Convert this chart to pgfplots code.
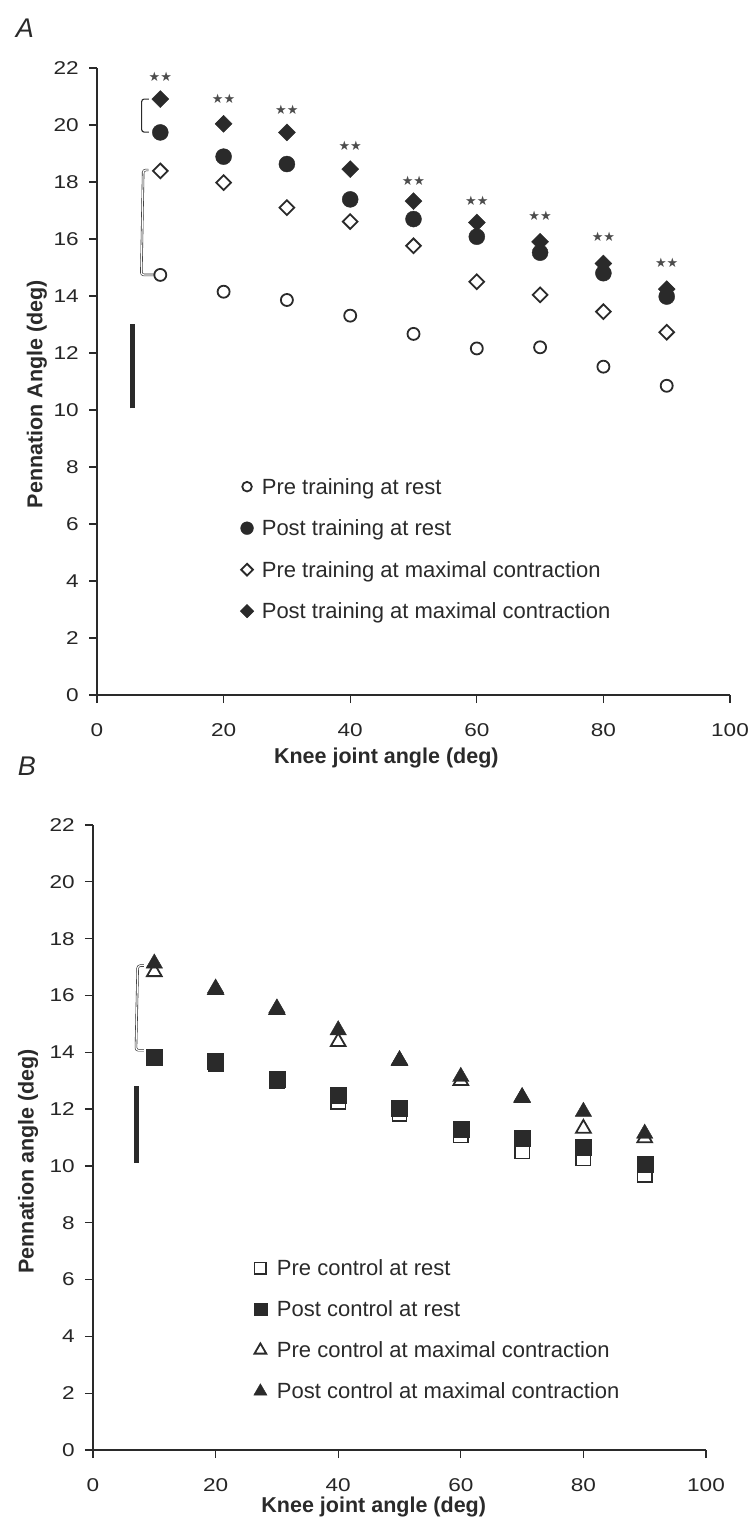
\documentclass[border=0pt]{standalone}
\usepackage{pgfplots}
\pgfplotsset{compat=1.18}
\usepackage{fontspec}
\setmainfont{Liberation Sans}
\newfontfamily\tickfont[FakeStretch=1.22]{Liberation Sans}
\newfontfamily\symfont{DejaVu Sans}
\definecolor{ink}{HTML}{2A2A2A}

\pgfplotstableread{
x preR postR preM postM star
10 14.74 19.74 18.39 20.91 21.68
20 14.15 18.89 17.98 20.04 20.91
30 13.86 18.63 17.10 19.74 20.53
40 13.31 17.39 16.61 18.45 19.27
50 12.67 16.70 15.76 17.33 18.05
60 12.16 16.08 14.50 16.58 17.34
70 12.20 15.52 14.04 15.90 16.82
80 11.52 14.80 13.45 15.14 16.08
90 10.85 13.98 12.73 14.24 15.17
}\dataA

\pgfplotstableread{
x preR postR preM postM
10 13.80 13.84 16.83 17.13
20 13.60 13.68 16.20 16.25
30 13.00 13.05 15.50 15.55
40 12.26 12.49 14.37 14.78
50 11.84 12.02 13.70 13.73
60 11.07 11.30 13.00 13.14
70 10.52 10.98 12.40 12.43
80 10.26 10.67 11.32 11.91
90 9.68 10.05 10.98 11.14
}\dataB

\pgfplotsset{
  commonstyle/.style={
    scale only axis,
    xmin=0, xmax=100, ymin=0, ymax=22,
    xtick={0,20,...,100}, ytick={0,2,...,22},
    axis x line*=bottom, axis y line*=left,
    axis line style={-, line width=1.8pt, draw=ink},
    tick align=outside, major tick length=8pt,
    tick style={line width=1.3pt, draw=ink},
    clip=false,
    /pgf/number format/assume math mode=true,
    tick label style={font=\tickfont\fontsize{18.5}{20}\selectfont, text=black!85},
    yticklabel style={inner sep=0pt, xshift=-10pt},
    xticklabel style={inner sep=0pt, yshift=-20pt},
    label style={font=\bfseries\fontsize{21.5}{24}\selectfont, text=ink},
    legend style={draw=none, fill=none, inner sep=0pt, column sep=8pt,
      font=\fontsize{22}{24}\selectfont, text=ink, cells={anchor=west},
      nodes={inner sep=0pt, text height=15pt, text depth=5pt}},
    legend image code/.code={\begin{scope}[every mark/.append style={scale=0.8}]\draw[##1] plot coordinates {(0pt,2.5pt)};\end{scope}},
  },
}

\begin{document}
\begin{tikzpicture}
\useasboundingbox (0pt,0pt) rectangle (750pt,-1522pt);

\node[font=\itshape\fontsize{27}{30}\selectfont, text=ink] at (25pt,-28pt) {A};
\node[font=\itshape\fontsize{27}{30}\selectfont, text=ink] at (27pt,-766pt) {B};

% ---------------- Panel A ----------------
\begin{axis}[commonstyle,
  at={(97pt,-695pt)}, anchor=south west,
  width=633pt, height=627pt,
  xlabel={Knee joint angle (deg)},
  ylabel={Pennation Angle (deg)},
  xlabel style={at={(axis description cs:0.457,-0.1005)}, anchor=center},
  ylabel style={at={(axis description cs:-0.095,0.48)}, anchor=center},
  legend style={at={(axis cs:22.6,7.58)}, anchor=north west, row sep=21.5pt},
]
\addplot[only marks, mark=*, mark size=6pt, mark options={fill=white, draw=ink, line width=1.8pt}] table[x=x,y=preR] {\dataA};
\addlegendentry{Pre training at rest}
\addplot[only marks, mark=*, mark size=8pt, mark options={fill=ink, draw=ink}] table[x=x,y=postR] {\dataA};
\addlegendentry{Post training at rest}
\addplot[only marks, mark=square*, mark size=5.2pt, mark options={rotate=45, fill=white, draw=ink, line width=1.8pt}] table[x=x,y=preM] {\dataA};
\addlegendentry{Pre training at maximal contraction}
\addplot[only marks, mark=square*, mark size=6pt, mark options={rotate=45, fill=ink, draw=ink}] table[x=x,y=postM] {\dataA};
\addlegendentry{Post training at maximal contraction}

\addplot[forget plot, draw=ink, line width=4.5pt] coordinates {(5.6,10.06) (5.6,13.02)};

\addplot[forget plot, only marks, mark=none, nodes near coords={\symfont\fontsize{13}{14}\selectfont\textcolor{black!70}{★★}},
  nodes near coords align={center}] table[x=x,y=star] {\dataA};

\draw[ink, line width=1.1pt, rounded corners=2.5pt] (axis cs:8.2,20.91) -- (axis cs:7.06,20.91) -- (axis cs:7.06,19.75) -- (axis cs:8.2,19.75);
\draw[ink, line width=0.6pt, double, double distance=1.2pt, rounded corners=2.5pt] (axis cs:8.1,18.42) -- (axis cs:7.3,18.42) -- (axis cs:7.0,14.74) -- (axis cs:9.0,14.74);
\end{axis}

% ---------------- Panel B ----------------
\begin{axis}[commonstyle,
  at={(93pt,-1450pt)}, anchor=south west,
  width=613pt, height=625pt,
  xlabel={Knee joint angle (deg)},
  ylabel={Pennation angle (deg)},
  xlabel style={at={(axis description cs:0.458,-0.091)}, anchor=center},
  ylabel style={at={(axis description cs:-0.106,0.462)}, anchor=center},
  legend style={at={(axis cs:26.2,6.67)}, anchor=north west, row sep=21pt, column sep=10pt},
]
\addplot[only marks, mark=square*, mark size=7.2pt, mark options={fill=white, draw=ink, line width=1.5pt}] table[x=x,y=preR] {\dataB};
\addlegendentry{Pre control at rest}
\addplot[only marks, mark=square*, mark size=8pt, mark options={fill=ink, draw=ink}] table[x=x,y=postR] {\dataB};
\addlegendentry{Post control at rest}
\addplot[only marks, mark=triangle*, mark size=8.5pt, mark options={fill=white, draw=ink, line width=1.8pt}] table[x=x,y=preM] {\dataB};
\addlegendentry{Pre control at maximal contraction}
\addplot[only marks, mark=triangle*, mark size=9.5pt, mark options={fill=ink, draw=ink}] table[x=x,y=postM] {\dataB};
\addlegendentry{Post control at maximal contraction}

\addplot[forget plot, draw=ink, line width=4.5pt] coordinates {(7.1,10.11) (7.1,12.81)};

\draw[ink, line width=0.6pt, double, double distance=1.2pt, rounded corners=2.5pt] (axis cs:8.3,17.05) -- (axis cs:7.3,17.05) -- (axis cs:7.0,14.07) -- (axis cs:8.3,14.07);
\end{axis}
\end{tikzpicture}
\end{document}
